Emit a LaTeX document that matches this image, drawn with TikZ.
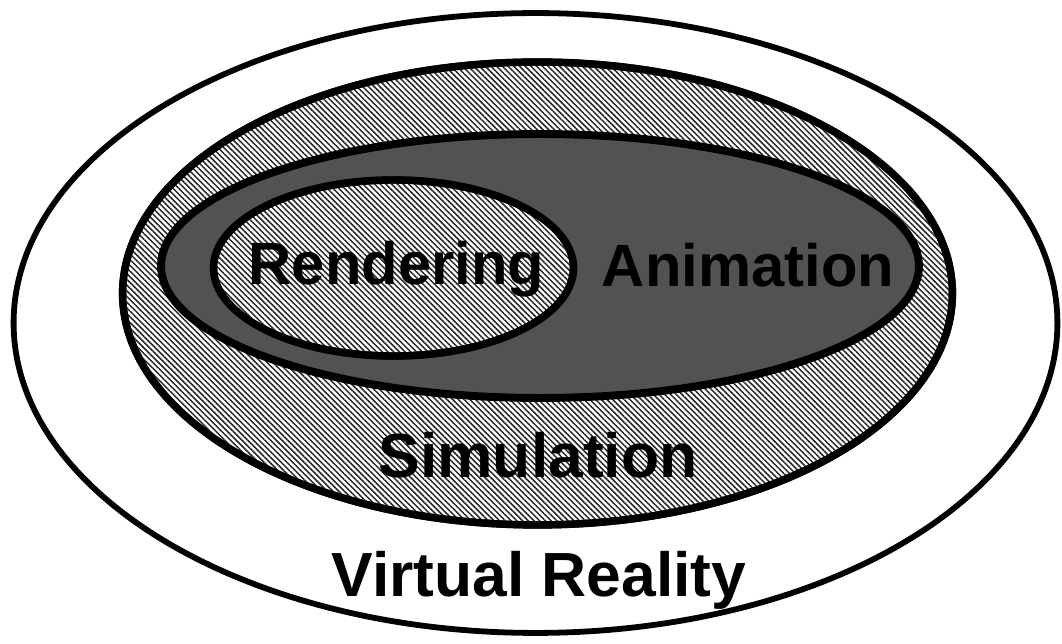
\documentclass[tikz,border=0pt]{standalone}
\usepackage{fontspec}
\setmainfont{Liberation Sans}
\usetikzlibrary{shapes.geometric, patterns.meta}

\tikzset{
  layer/.style={ellipse, draw=black, inner sep=0pt, outer sep=0pt},
  hatched/.style={fill=white, pattern color=black!85,
    pattern={Lines[angle=-45, distance=2.3pt, line width=0.85pt]}},
  label text/.style={anchor=base, inner sep=0pt,
    font=\bfseries\fontsize{35.5}{40}\selectfont},
  small label/.style={label text, font=\bfseries\fontsize{34}{40}\selectfont}
}

\begin{document}
\begin{tikzpicture}[x=0.02cm, y=-0.02cm]
  \useasboundingbox (0,0) rectangle (1062,644);
  \fill[white] (0,0) rectangle (1062,644);

  % nested layers, outermost first
  \node[layer, line width=3.3pt, fill=white,
        minimum width=20.88cm, minimum height=12.4cm] (vr) at (535.5,323) {};
  \node[layer, line width=4.2pt, fill=white,
        minimum width=16.6cm, minimum height=9.26cm] (simbg) at (537.5,293.5) {};
  \node[layer, line width=4.2pt, hatched,
        minimum width=16.6cm, minimum height=9.26cm] (sim) at (537.5,293.5) {};
  \node[layer, line width=4.5pt, fill=black!68,
        minimum width=15.16cm, minimum height=5.28cm] (anim) at (540,266) {};
  \node[layer, line width=4.2pt, fill=white,
        minimum width=7.2cm, minimum height=3.52cm] (rendbg) at (393.5,268) {};
  \node[layer, line width=4.2pt, hatched,
        minimum width=7.2cm, minimum height=3.52cm] (rend) at (393.5,268) {};

  % labels
  \node[small label] (trend) at (396.5,285) {Rendering};
  \node[small label] (tanim) at (748,287) {Animation};
  \node[label text] (tsim) at (538,478) {Simulation};
  \node[label text] (tvr) at (539,597) {Virtual Reality};
\end{tikzpicture}
\end{document}
